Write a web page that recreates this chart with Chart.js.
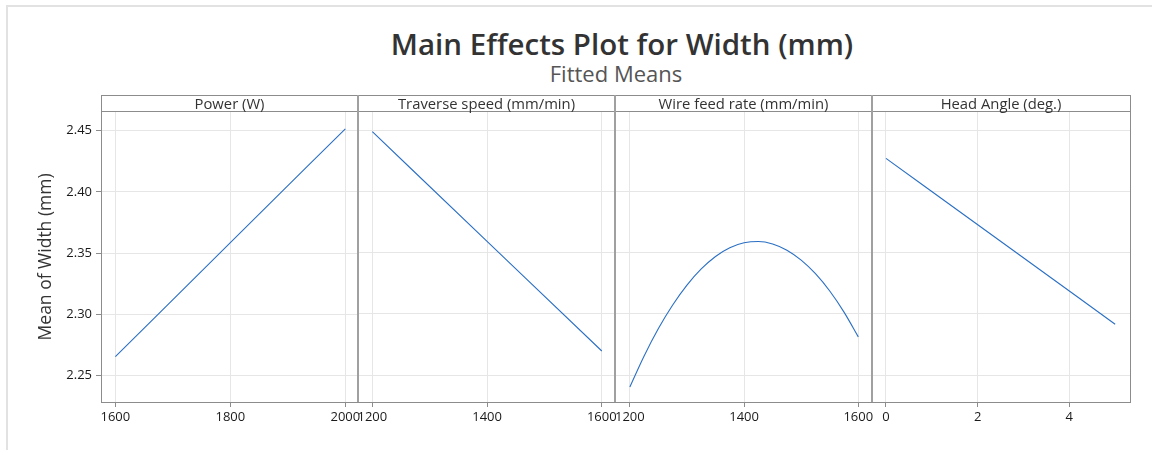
<!DOCTYPE html>
<html>
<head>
<meta charset="utf-8">
<script src="https://cdn.jsdelivr.net/npm/chart.js@4/dist/chart.umd.min.js"></script>
<style>
  html, body { margin:0; padding:0; background:#fff; }
  #wrap { position:relative; width:1152px; height:450px; overflow:hidden; font-family:"Open Sans","Noto Sans",sans-serif; }
  .frame { position:absolute; left:6px; top:5px; width:1160px; height:460px; border-left:2px solid #e2e2e2; border-top:2px solid #e2e2e2; }
  #title { position:absolute; left:6px; width:1232px; top:25px; text-align:center; font-size:29.5px; font-weight:600; color:#333; line-height:38px; }
  #subtitle { position:absolute; left:0; width:1232px; top:59px; text-align:center; font-size:22px; color:#555; line-height:28px; }
  canvas { position:absolute; }
  .box { position:absolute; left:101px; top:95px; width:1028px; height:306px; border:1px solid #8c8c8c; pointer-events:none; }
  .strip { position:absolute; top:95px; height:16px; border-bottom:1px solid #8c8c8c; text-align:center; font-size:14.8px; line-height:17px; color:#333; }
  .sep { position:absolute; top:95px; width:2px; height:307px; background:#a0a0a0; }
</style>
</head>
<body>
<div id="wrap">
  <div class="frame"></div>
  <div id="title">Main Effects Plot for Width (mm)</div>
  <div id="subtitle">Fitted Means</div>
  <canvas id="c0"></canvas>
  <canvas id="c1"></canvas>
  <canvas id="c2"></canvas>
  <canvas id="c3"></canvas>
  <div class="box"></div>
  <div id="strips"></div>
</div>
<script>
// ---- data ----
const panelTitles = ["Power (W)", "Traverse speed (mm/min)", "Wire feed rate (mm/min)", "Head Angle (deg.)"];

const powerX = [1600, 1800, 2000];
const powerY = [2.2653, 2.3585, 2.4516];

const speedX = [1200, 1400, 1600];
const speedY = [2.4486, 2.3592, 2.2698];

const wireX = [1200, 1225, 1250, 1275, 1300, 1325, 1350, 1375, 1400, 1425, 1450, 1475, 1500, 1525, 1550, 1575, 1600];
const wireY = [2.2405, 2.2658, 2.2881, 2.3073, 2.3235, 2.3367, 2.3469, 2.3540, 2.3580, 2.3591, 2.3571, 2.3520, 2.3439, 2.3328, 2.3187, 2.3015, 2.2813];

const angleX = [0, 2.5, 5];
const angleY = [2.4269, 2.3593, 2.2916];

const powerTicks = [1600, 1800, 2000];
const speedTicks = [1200, 1400, 1600];
const wireTicks = [1200, 1400, 1600];
const angleTicks = [0, 2, 4];
const yTicks = [2.25, 2.30, 2.35, 2.40, 2.45];

const yLabel = "Mean of Width (mm)";

// ---- layout ----
const edges = [101, 358, 615, 872, 1130];
const xRanges = [[1575, 2022], [1175, 1623], [1174, 1624], [-0.305, 5.324]];
const yRange = [2.2282, 2.4655];
const CANVAS_TOP = 100, PLOT_TOP = 111, PLOT_BOTTOM = 402, PAD = 20;

const panels = [
  {x: powerX, y: powerY, ticks: powerTicks},
  {x: speedX, y: speedY, ticks: speedTicks},
  {x: wireX, y: wireY, ticks: wireTicks},
  {x: angleX, y: angleY, ticks: angleTicks}
];

const strips = document.getElementById('strips');
for (let i = 0; i < 4; i++) {
  const s = document.createElement('div');
  s.className = 'strip';
  s.style.left = edges[i] + 'px';
  s.style.width = (edges[i+1] - edges[i]) + 'px';
  s.textContent = panelTitles[i];
  strips.appendChild(s);
  if (i > 0) {
    const d = document.createElement('div');
    d.className = 'sep';
    d.style.left = (edges[i] - 1) + 'px';
    strips.appendChild(d);
  }
}

const fontFamily = '"Open Sans","Noto Sans",sans-serif';

panels.forEach((p, i) => {
  const cv = document.getElementById('c' + i);
  const first = i === 0;
  const left = first ? 0 : edges[i] - PAD;
  const right = edges[i+1] + PAD;
  const w = right - left, h = 450 - CANVAS_TOP;
  cv.style.left = left + 'px';
  cv.style.top = CANVAS_TOP + 'px';
  cv.style.width = w + 'px';
  cv.style.height = h + 'px';
  cv.width = w; cv.height = h;

  new Chart(cv, {
    type: 'line',
    data: {
      datasets: [{
        data: p.x.map((xv, k) => ({x: xv, y: p.y[k]})),
        borderColor: '#2a6fc4',
        borderWidth: 1.1,
        pointRadius: 0,
        tension: 0.4,
        cubicInterpolationMode: 'monotone',
        fill: false
      }]
    },
    options: {
      responsive: false,
      animation: false,
      events: [],
      layout: { padding: { left: first ? 0 : PAD, right: PAD, top: PLOT_TOP - CANVAS_TOP, bottom: 0 } },
      plugins: { legend: { display: false }, tooltip: { enabled: false }, title: { display: false } },
      scales: {
        x: {
          type: 'linear',
          min: xRanges[i][0], max: xRanges[i][1],
          afterBuildTicks: sc => { sc.ticks = p.ticks.map(v => ({value: v})); },
          afterFit: sc => { sc.height = 450 - PLOT_BOTTOM; },
          ticks: {
            color: '#1a1a1a', font: { family: fontFamily, size: 13 }, padding: 2,
            maxRotation: 0, autoSkip: false,
            callback: v => String(v)
          },
          grid: { color: '#e6e6e6', lineWidth: 1, tickLength: 5, tickColor: '#8c8c8c', drawTicks: true },
          border: { display: false }
        },
        y: {
          type: 'linear',
          min: yRange[0], max: yRange[1],
          afterBuildTicks: sc => { sc.ticks = yTicks.map(v => ({value: v})); },
          afterFit: sc => { sc.width = first ? 101 : 0; },
          ticks: {
            display: first,
            color: '#1a1a1a', font: { family: fontFamily, size: 13 }, padding: 4,
            callback: v => Number(v).toFixed(2)
          },
          grid: { color: '#e6e6e6', lineWidth: 1, tickLength: first ? 5 : 0, tickColor: '#8c8c8c', drawTicks: first },
          border: { display: false },
          title: {
            display: first, text: yLabel, color: '#333',
            font: { family: fontFamily, size: 17.5 }, padding: { top: 36, bottom: 0 }
          }
        }
      }
    }
  });
});
</script>
</body>
</html>
